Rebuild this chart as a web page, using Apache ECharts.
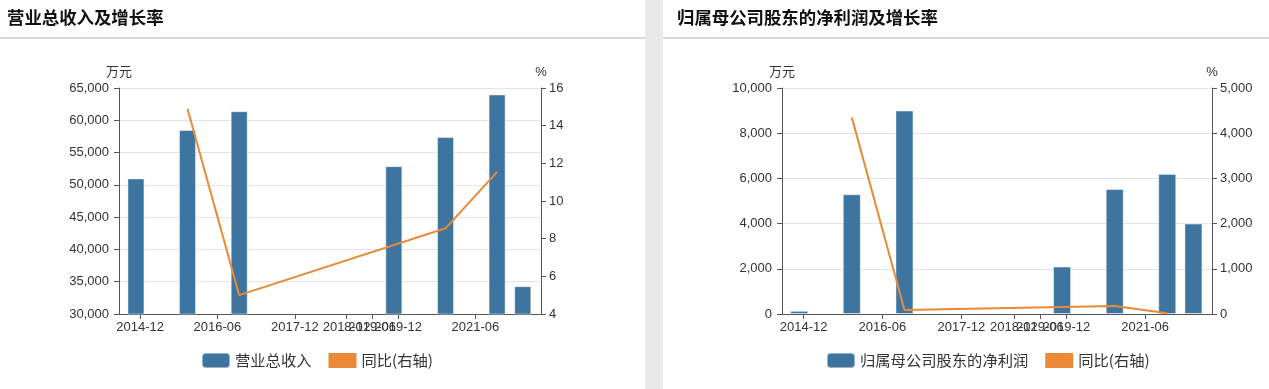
<!DOCTYPE html>
<html>
<head>
<meta charset="utf-8">
<script src="https://cdn.jsdelivr.net/npm/echarts@6/dist/echarts.min.js"></script>
<style>
html,body{margin:0;padding:0;background:#fff;}
#c{width:1269px;height:389px;}
</style>
</head>
<body>
<div id="c"></div>
<script>
// ---- data ----
var periods = ['2014-12', '2015-12', '2016-12', '2019-12', '2020-12', '2021-12', '2022-06'];
var revenue = [51000, 58500, 61400, 52900, 57400, 64000, 34300];           // 营业总收入 (万元)
var revenueYoYPeriods = ['2015-12', '2016-12', '2020-12', '2021-12'];
var revenueYoY = [14.9, 5.0, 8.55, 11.55];                                  // 同比 %
var profit = [140, 5300, 9000, 2100, 5530, 6200, 4000];                      // 归属母公司股东的净利润 (万元)
var profitYoYPeriods = ['2015-12', '2016-12', '2020-12', '2021-12'];
var profitYoY = [4350, 90, 175, 15];                                         // 同比 %
var tickLabels = ['2014-12', '2016-06', '2017-12', '2018-12', '2019-06', '2019-12', '2021-06'];

// ---- helpers ----
function periodStart(p) { var a = p.split('-'); return Date.UTC(+a[0], +a[1] - 1, 1); }
function periodEnd(p) { var a = p.split('-'); return Date.UTC(+a[0], +a[1], 0); }
var tickValues = tickLabels.map(periodEnd);
function pairs(ps, vs) { return ps.map(function (p, i) { return [periodStart(p), vs[i]]; }); }
function fmtNum(v) { return Number(v).toLocaleString('en-US'); }

var FONT = 'Liberation Sans, Arial, Noto Sans CJK SC, sans-serif';
var CJK = 'Noto Sans CJK SC, sans-serif';
var BLUE = '#3d75a0', ORANGE = '#ea8a37';
var AXIS = '#555', SPLIT = '#e4e4e4', LABEL = '#333';
var xMin = Date.UTC(2014, 7, 3), xMax = Date.UTC(2022, 9, 8);

function xAxis(gi) {
  return {
    type: 'value', gridIndex: gi, min: xMin, max: xMax, scale: true,
    axisLine: { show: true, onZero: false, lineStyle: { color: AXIS } },
    axisTick: { show: true, length: 5, lineStyle: { color: AXIS }, customValues: tickValues },
    axisLabel: {
      color: LABEL, fontSize: 13, fontFamily: FONT, margin: 7, hideOverlap: false,
      customValues: tickValues,
      formatter: function (v) {
        var i = tickValues.indexOf(v);
        if (i >= 0) return tickLabels[i];
        var d = new Date(v); var m = d.getUTCMonth() + 1;
        return d.getUTCFullYear() + '-' + (m < 10 ? '0' + m : m);
      }
    },
    splitLine: { show: false }
  };
}
function yAxis(gi, min, max, interval, name, pos, margin) {
  return {
    type: 'value', gridIndex: gi, min: min, max: max, interval: interval, position: pos,
    name: name, nameLocation: 'end', nameGap: 9,
    nameTextStyle: { color: LABEL, fontSize: 13, fontFamily: FONT, align: 'center' },
    axisLine: { show: true, lineStyle: { color: AXIS } },
    axisTick: { show: true, length: 5, lineStyle: { color: AXIS } },
    axisLabel: { color: LABEL, fontSize: 13, fontFamily: FONT, margin: margin, formatter: fmtNum },
    splitLine: { show: pos === 'left', lineStyle: { color: SPLIT, width: 1 } }
  };
}

var chart = echarts.init(document.getElementById('c'), null, { renderer: 'canvas' });
chart.setOption({
  animation: false,
  backgroundColor: '#fff',
  graphic: [
    { type: 'rect', shape: { x: 645, y: 0, width: 18, height: 389 }, style: { fill: '#e8e8e8' }, z: -10 },
    { type: 'line', shape: { x1: 0, y1: 38, x2: 645, y2: 38 }, style: { stroke: '#d9d9d9', lineWidth: 2 } },
    { type: 'line', shape: { x1: 663, y1: 38, x2: 1269, y2: 38 }, style: { stroke: '#d9d9d9', lineWidth: 2 } }
  ],
  title: [
    { text: '营业总收入及增长率', left: 2, top: 4, textStyle: { fontSize: 17.4, fontWeight: 'bold', color: '#111', fontFamily: CJK } },
    { text: '归属母公司股东的净利润及增长率', left: 672, top: 4, textStyle: { fontSize: 17.4, fontWeight: 'bold', color: '#111', fontFamily: CJK } }
  ],
  legend: [
    {
      left: 196, top: 347, itemWidth: 28, itemHeight: 15, itemGap: 17,
      textStyle: { fontSize: 15.3, color: '#333', fontFamily: CJK },
      data: [{ name: '营业总收入', icon: 'roundRect' }, { name: '同比(右轴)', icon: 'rect' }]
    },
    {
      left: 821, top: 347, itemWidth: 28, itemHeight: 15, itemGap: 17,
      textStyle: { fontSize: 15.3, color: '#333', fontFamily: CJK },
      data: [{ name: '归属母公司股东的净利润', icon: 'roundRect' }, { name: '同比(右轴)', icon: 'rect' }]
    }
  ],
  grid: [
    { left: 119, top: 88, width: 422, height: 226 },
    { left: 782, top: 88, width: 430, height: 226 }
  ],
  xAxis: [xAxis(0), xAxis(1)],
  yAxis: [
    yAxis(0, 30000, 65000, 5000, '万元', 'left', 10),
    yAxis(0, 4, 16, 2, '%', 'right', 8),
    yAxis(1, 0, 10000, 2000, '万元', 'left', 10),
    yAxis(1, 0, 5000, 1000, '%', 'right', 8)
  ],
  series: [
    {
      name: '营业总收入', type: 'bar', xAxisIndex: 0, yAxisIndex: 0, barWidth: 17,
      itemStyle: { color: BLUE, borderColor: 'rgba(255,255,255,0.45)', borderWidth: 1 },
      data: pairs(periods, revenue)
    },
    {
      name: '同比(右轴)', type: 'line', xAxisIndex: 0, yAxisIndex: 1, showSymbol: false, symbol: 'none',
      lineStyle: { color: ORANGE, width: 2 }, itemStyle: { color: ORANGE },
      data: pairs(revenueYoYPeriods, revenueYoY)
    },
    {
      name: '归属母公司股东的净利润', type: 'bar', xAxisIndex: 1, yAxisIndex: 2, barWidth: 18,
      itemStyle: { color: BLUE, borderColor: 'rgba(255,255,255,0.45)', borderWidth: 1 },
      data: pairs(periods, profit)
    },
    {
      name: '同比(右轴)', type: 'line', xAxisIndex: 1, yAxisIndex: 3, showSymbol: false, symbol: 'none',
      lineStyle: { color: ORANGE, width: 2 }, itemStyle: { color: ORANGE },
      data: pairs(profitYoYPeriods, profitYoY)
    }
  ]
});
</script>
</body>
</html>
